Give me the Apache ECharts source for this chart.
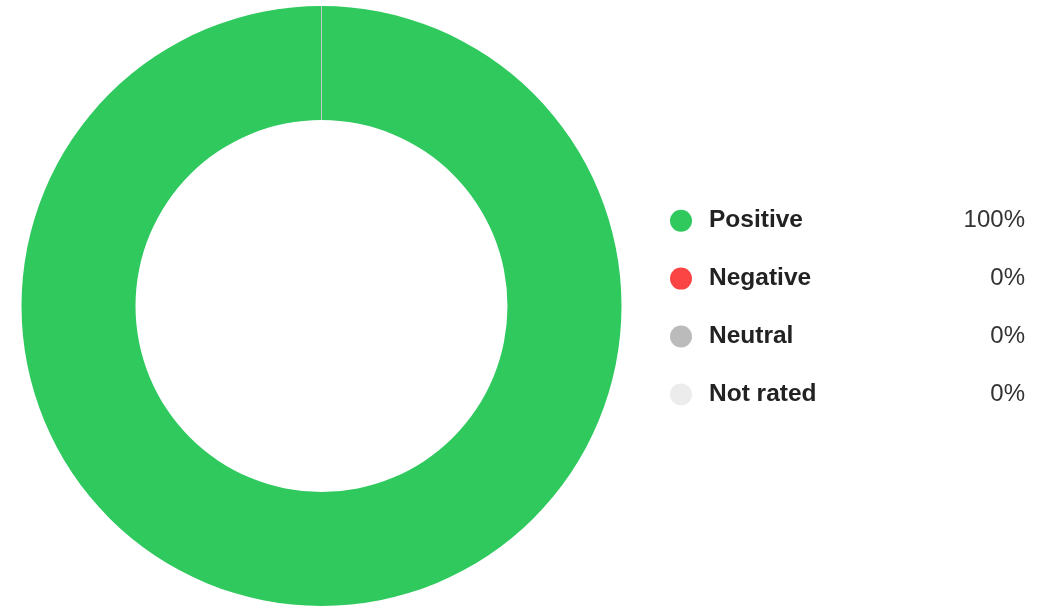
<!DOCTYPE html>
<html>
<head>
<meta charset="utf-8">
<script src="https://cdn.jsdelivr.net/npm/echarts@6/dist/echarts.min.js"></script>
<style>
html,body{margin:0;padding:0;background:#fff;}
#chart{width:1053px;height:606px;}
</style>
</head>
<body>
<div id="chart"></div>
<script>
const categories = ['Positive', 'Negative', 'Neutral', 'Not rated'];
const values = [100, 0, 0, 0];
const colors = ['#2fc95e', '#fb4444', '#bbbbbb', '#ececec'];

const total = values.reduce((a, b) => a + b, 0);
const pctOf = {};
categories.forEach((c, i) => { pctOf[c] = Math.round(values[i] / total * 100) + '%'; });

const chart = echarts.init(document.getElementById('chart'));
chart.setOption({
  animation: false,
  legend: {
    orient: 'vertical',
    left: 670,
    top: 208.2,
    padding: 0,
    icon: 'circle',
    itemWidth: 22,
    itemHeight: 22,
    itemGap: 32.9,
    selectedMode: false,
    itemStyle: { borderWidth: 0 },
    data: categories,
    formatter: function (name) {
      return '{sp|}{name|' + name + '}{val|' + pctOf[name] + '}';
    },
    textStyle: {
      rich: {
        sp: { width: 12, lineHeight: 22 },
        name: { width: 220, fontFamily: 'Liberation Sans, Arial, sans-serif', fontSize: 24.5, fontWeight: 'bold', color: '#222', lineHeight: 22 },
        val: { width: 96, align: 'right', fontFamily: 'Liberation Sans, Arial, sans-serif', fontSize: 24, color: '#333', lineHeight: 22 }
      }
    }
  },
  series: [{
    type: 'pie',
    center: [321.5, 306],
    radius: [186, 300],
    startAngle: 90,
    clockwise: true,
    label: { show: false },
    labelLine: { show: false },
    emphasis: { disabled: true },
    data: categories.map((c, i) => ({
      name: c,
      value: values[i],
      itemStyle: values[i] === 0
        ? { color: colors[i], borderColor: 'rgba(200,200,200,0.6)', borderWidth: 1 }
        : { color: colors[i] }
    }))
  }]
});
</script>
</body>
</html>
